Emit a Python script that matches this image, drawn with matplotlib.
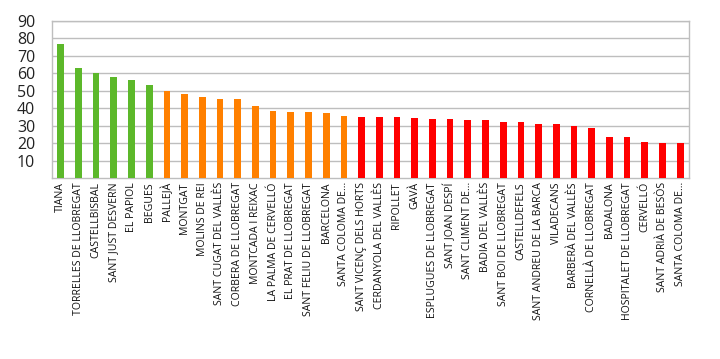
import matplotlib
matplotlib.use("Agg")
import matplotlib.pyplot as plt

# municipalities, sorted by value
municipis = [
    "TIANA", "TORRELLES DE LLOBREGAT", "CASTELLBISBAL", "SANT JUST DESVERN",
    "EL PAPIOL", "BEGUES", "PALLEJÀ", "MONTGAT", "MOLINS DE REI",
    "SANT CUGAT DEL VALLÈS", "CORBERA DE LLOBREGAT", "MONTCADA I REIXAC",
    "LA PALMA DE CERVELLÓ", "EL PRAT DE LLOBREGAT", "SANT FELIU DE LLOBREGAT",
    "BARCELONA", "SANTA COLOMA DE...", "SANT VICENÇ DELS HORTS",
    "CERDANYOLA DEL VALLÈS", "RIPOLLET", "GAVÀ", "ESPLUGUES DE LLOBREGAT",
    "SANT JOAN DESPÍ", "SANT CLIMENT DE...", "BADIA DEL VALLÈS",
    "SANT BOI DE LLOBREGAT", "CASTELLDEFELS", "SANT ANDREU DE LA BARCA",
    "VILADECANS", "BARBERÀ DEL VALLÈS", "CORNELLÀ DE LLOBREGAT", "BADALONA",
    "HOSPITALET DE LLOBREGAT", "CERVELLÓ", "SANT ADRIÀ DE BESÒS",
    "SANTA COLOMA DE...",
]
valors = [
    77.1, 62.9, 60.4, 57.7, 56.0, 53.5,
    50.1, 48.4, 46.3, 45.5, 45.5, 41.5, 38.7, 38.1, 38.1, 37.0, 35.8,
    35.2, 35.2, 35.2, 34.7, 34.1, 34.1, 33.0, 33.0, 32.2, 32.2, 31.2,
    31.2, 30.1, 28.8, 23.8, 23.8, 20.8, 20.2, 20.2,
]
# group of each bar: 0 = green, 1 = orange, 2 = red
grups = [0] * 6 + [1] * 11 + [2] * 19
colors_grup = ["#5CB82A", "#FF8000", "#FF0000"]
y_ticks = [10, 20, 30, 40, 50, 60, 70, 80, 90]

plt.rcParams["font.family"] = ["Open Sans", "DejaVu Sans"]

fig = plt.figure(figsize=(7.2, 3.59), dpi=100)
ax = fig.add_axes([0.072, 0.504, 0.885, 0.4375])

x = list(range(len(municipis)))
ax.bar(x, valors, width=0.38, color=[colors_grup[g] for g in grups], zorder=3)

ax.set_xlim(-0.5, len(municipis) - 0.5)
ax.set_ylim(0, 90)
ax.set_yticks(y_ticks)
ax.set_yticklabels([str(t) for t in y_ticks], fontsize=11.5, color="#222222")
ax.set_xticks(x)
ax.set_xticklabels(municipis, rotation=90, fontsize=7.6, color="#111111")
ax.tick_params(axis="both", length=0)
ax.tick_params(axis="y", pad=12)
ax.tick_params(axis="x", pad=3)

ax.grid(axis="y", color="#BEBEBE", linewidth=1.0, zorder=0)
for s in ax.spines.values():
    s.set_color("#BEBEBE")
    s.set_linewidth(1.0)

fig.savefig("out.png", dpi=100)
